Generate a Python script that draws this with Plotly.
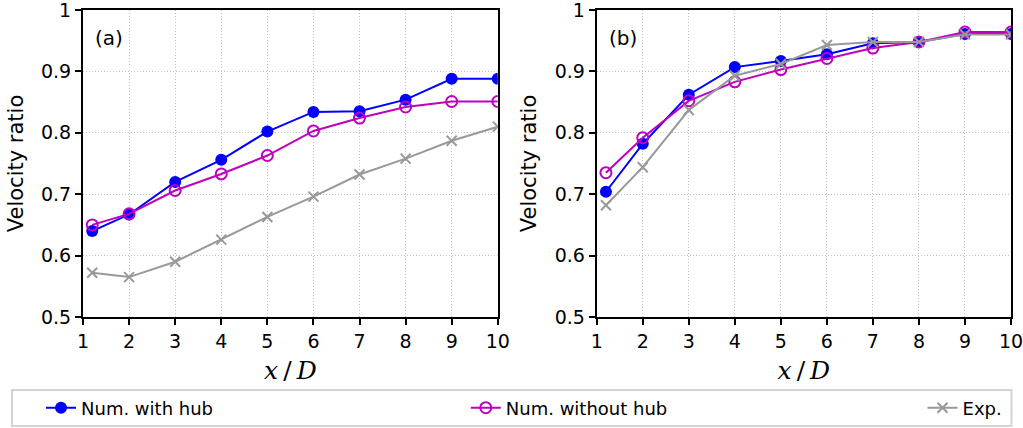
import plotly.graph_objects as go

x_pos = [1.2, 2, 3, 4, 5, 6, 7, 8, 9, 10]

a_hub = [0.640, 0.667, 0.720, 0.756, 0.802, 0.834, 0.835, 0.854, 0.888, 0.888]
a_nohub = [0.650, 0.668, 0.706, 0.733, 0.763, 0.803, 0.824, 0.842, 0.851, 0.851]
a_exp = [0.572, 0.565, 0.590, 0.626, 0.663, 0.696, 0.732, 0.758, 0.787, 0.810]

b_hub = [0.704, 0.782, 0.862, 0.907, 0.917, 0.928, 0.946, 0.948, 0.961, 0.961]
b_nohub = [0.735, 0.792, 0.852, 0.883, 0.903, 0.921, 0.938, 0.948, 0.964, 0.964]
b_exp = [0.682, 0.744, 0.837, 0.893, 0.912, 0.943, 0.948, 0.948, 0.960, 0.960]

x_ticks = [1, 2, 3, 4, 5, 6, 7, 8, 9, 10]
y_ticks = [0.5, 0.6, 0.7, 0.8, 0.9, 1.0]
y_ticktext = ["0.5", "0.6", "0.7", "0.8", "0.9", "1"]

names = ["Num. with hub", "Num. without hub", "Exp."]
legends = ["legend", "legend2", "legend3"]
BLUE = "#0000ff"
MAG = "#bf00bf"
GRAY = "#999999"

W, H = 1023, 428
L, R, T, B = 83, 1011.5, 10, 317
PW, PH = R - L, B - T


def px(xp):
    return (xp - L) / PW


def py(yp):
    return (B - yp) / PH


fig = go.Figure()


def add_panel(xa, ya, hub, nohub, exp, show):
    fig.add_trace(go.Scatter(x=x_pos, y=hub, mode="lines+markers", name=names[0],
                             line=dict(color=BLUE, width=2),
                             marker=dict(symbol="circle", size=12, color=BLUE),
                             xaxis=xa, yaxis=ya, showlegend=show, legend=legends[0]))
    fig.add_trace(go.Scatter(x=x_pos, y=nohub, mode="lines+markers", name=names[1],
                             line=dict(color=MAG, width=2),
                             marker=dict(symbol="circle-open", size=11, color=MAG, line=dict(width=2)),
                             xaxis=xa, yaxis=ya, showlegend=show, legend=legends[1]))
    fig.add_trace(go.Scatter(x=x_pos, y=exp, mode="lines+markers", name=names[2],
                             line=dict(color=GRAY, width=2),
                             marker=dict(symbol="x-thin-open", size=10, color=GRAY, line=dict(width=2, color=GRAY)),
                             xaxis=xa, yaxis=ya, showlegend=show, legend=legends[2]))


add_panel("x", "y", a_hub, a_nohub, a_exp, True)
add_panel("x2", "y2", b_hub, b_nohub, b_exp, False)

tickfont = dict(family="DejaVu Sans", size=19, color="black")
axis_common = dict(showline=True, linecolor="black", linewidth=2, mirror=True,
                   ticks="outside", ticklen=6, tickwidth=2, tickcolor="black",
                   showgrid=True, gridcolor="#c4c4c4", griddash="1px,2px", gridwidth=1,
                   zeroline=False, tickfont=tickfont, automargin=False,
                   ticklabeloverflow="allow")

xtitle = dict(text="<i>x</i>\u2009/\u2009<i>D</i>", font=dict(family="DejaVu Serif", size=25, color="black"), standoff=11)
ytitle = dict(text="Velocity ratio", font=dict(family="DejaVu Sans", size=21, color="black"), standoff=12)

fig.update_layout(
    width=W, height=H, margin=dict(l=L, r=W - R, t=T, b=H - B, autoexpand=False),
    plot_bgcolor="white", paper_bgcolor="white",
    xaxis=dict(domain=[0, px(498)], range=[1, 10], tickvals=x_ticks, anchor="y",
               title=xtitle, **axis_common),
    yaxis=dict(domain=[0, 1], range=[0.5, 1], tickvals=y_ticks, ticktext=y_ticktext, anchor="x",
               title=ytitle, **axis_common),
    xaxis2=dict(domain=[px(597), 1], range=[1, 10], tickvals=x_ticks, anchor="y2",
                title=xtitle, **axis_common),
    yaxis2=dict(domain=[0, 1], range=[0.5, 1], tickvals=y_ticks, ticktext=y_ticktext, anchor="x2",
                title=ytitle, **axis_common),
    showlegend=True,
)

legfont = dict(family="DejaVu Sans", size=18, color="black")
leg_px = [41, 466, 923]
for key, lx in zip(legends, leg_px):
    fig.update_layout(**{key: dict(x=px(lx), y=py(408), xanchor="left", yanchor="middle",
                                   orientation="h", bgcolor="rgba(0,0,0,0)", borderwidth=0,
                                   font=legfont, itemwidth=30)})

fig.add_shape(type="rect", xref="paper", yref="paper",
              x0=px(12), x1=px(1012), y0=py(426), y1=py(390),
              line=dict(color="#d4d4d4", width=2), fillcolor="rgba(0,0,0,0)", layer="below")

fig.add_annotation(text="(a)", xref="paper", yref="paper", x=px(93), y=py(38),
                   xanchor="left", yanchor="middle", showarrow=False,
                   font=dict(family="DejaVu Sans", size=20, color="black"))
fig.add_annotation(text="(b)", xref="paper", yref="paper", x=px(607), y=py(38),
                   xanchor="left", yanchor="middle", showarrow=False,
                   font=dict(family="DejaVu Sans", size=20, color="black"))

fig.write_html("out.html", config={"displayModeBar": False},
               post_script="document.body.style.margin='0px';document.body.style.overflow='hidden';")
